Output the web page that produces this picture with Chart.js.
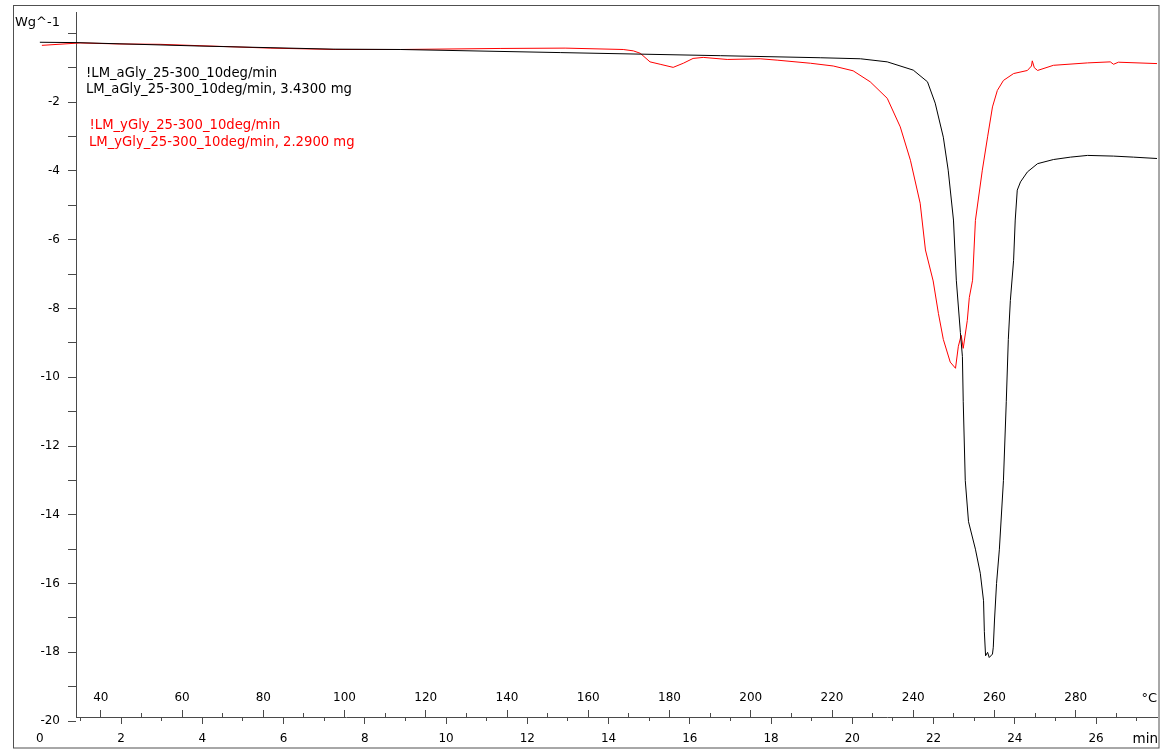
<!DOCTYPE html>
<html>
<head>
<meta charset="utf-8">
<script src="https://cdn.jsdelivr.net/npm/chart.js@4/dist/chart.umd.min.js"></script>
<style>
html,body{margin:0;padding:0;background:#fff;overflow:hidden}
#wrap{position:relative;width:1166px;height:751px}
</style>
</head>
<body>
<div id="wrap"><canvas id="c" width="1166" height="751"></canvas></div>
<script>
// ---- data (time in min, heat flow in W/g) ----
const timeA = [0, 0.89, 3.94, 7.22, 8.87, 12.81, 16.75, 19.21, 20.2, 20.86, 21.5, 21.85, 22.04, 22.24, 22.36, 22.49, 22.56, 22.66, 22.71, 22.73, 22.78, 22.86, 23.03, 23.15, 23.23, 23.25, 23.28, 23.33, 23.37, 23.45, 23.47, 23.5, 23.55, 23.62, 23.72, 23.79, 23.84, 23.89, 23.97, 24.01, 24.06, 24.14, 24.31, 24.56, 24.95, 25.37, 25.79, 26.43, 26.92, 27.5];
const heatFlowA = [-0.26, -0.27, -0.37, -0.46, -0.47, -0.56, -0.65, -0.71, -0.74, -0.83, -1.07, -1.41, -2.03, -3.02, -3.98, -5.43, -7.18, -8.7, -9.4, -10.7, -13.0, -14.2, -15.0, -15.7, -16.5, -17.4, -18.1, -18.0, -18.15, -18.05, -17.85, -17.06, -16.0, -15.0, -13.0, -10.7, -8.9, -7.77, -6.6, -5.43, -4.56, -4.32, -4.03, -3.79, -3.67, -3.6, -3.55, -3.57, -3.6, -3.64];

const timeY = [0.05, 0.99, 1.97, 2.96, 5.67, 7.27, 8.87, 11.33, 12.93, 14.36, 14.61, 14.78, 15.02, 15.27, 15.59, 15.84, 16.08, 16.33, 16.92, 17.73, 18.15, 18.97, 19.53, 20.02, 20.44, 20.86, 21.18, 21.43, 21.67, 21.8, 21.99, 22.12, 22.24, 22.41, 22.54, 22.61, 22.68, 22.73, 22.83, 22.88, 22.96, 23.03, 23.2, 23.33, 23.45, 23.57, 23.72, 23.97, 24.31, 24.41, 24.43, 24.48, 24.56, 24.95, 25.79, 26.35, 26.43, 26.55, 27.5];
const heatFlowY = [-0.35, -0.28, -0.31, -0.32, -0.43, -0.47, -0.47, -0.44, -0.43, -0.47, -0.51, -0.58, -0.83, -0.9, -0.99, -0.87, -0.73, -0.7, -0.76, -0.74, -0.78, -0.87, -0.95, -1.09, -1.41, -1.89, -2.72, -3.69, -4.94, -6.3, -7.2, -8.15, -8.9, -9.56, -9.74, -9.1, -8.78, -9.16, -8.35, -7.68, -7.18, -5.44, -3.98, -3.01, -2.14, -1.66, -1.37, -1.17, -1.08, -0.95, -0.8, -1.0, -1.08, -0.93, -0.86, -0.83, -0.9, -0.84, -0.88];

// ---- axes ----
const timeMin = 0.89, timeMax = 27.5;
const startTemp = 25, heatingRate = 10; // °C, °C/min
const yMin = -19.88, yMax = 0.62;

const timeTicks = [0, 2, 4, 6, 8, 10, 12, 14, 16, 18, 20, 22, 24, 26];
const timeTickLabels = ['0', '2', '4', '6', '8', '10', '12', '14', '16', '18', '20', '22', '24', '26'];
const timeMinorTicks = [1, 3, 5, 7, 9, 11, 13, 15, 17, 19, 21, 23, 25, 27];
const tempTicks = [40, 60, 80, 100, 120, 140, 160, 180, 200, 220, 240, 260, 280];
const tempTickLabels = ['40', '60', '80', '100', '120', '140', '160', '180', '200', '220', '240', '260', '280'];
const tempMinorTicks = [50, 70, 90, 110, 130, 150, 170, 190, 210, 230, 250, 270, 290];
const yTickValues = [-20, -19, -18, -17, -16, -15, -14, -13, -12, -11, -10, -9, -8, -7, -6, -5, -4, -3, -2, -1, 0];
const yTickLabels = ['-20', '', '-18', '', '-16', '', '-14', '', '-12', '', '-10', '', '-8', '', '-6', '', '-4', '', '-2', '', ''];

const seriesNames = ['LM_aGly_25-300_10deg/min', 'LM_yGly_25-300_10deg/min'];
const sampleMasses = ['3.4300 mg', '2.2900 mg'];
const seriesColors = ['#000000', '#ff0000'];
const yUnit = 'Wg^-1', tempUnit = '°C', timeUnit = 'min';

// ---- chart ----
const AX = '#4a4a4a';
const FONT = {family: 'DejaVu Sans', size: 12};
Chart.defaults.font.family = 'DejaVu Sans';
Chart.defaults.font.size = 12;
Chart.defaults.color = '#000';

function pts(xs, ys) { return xs.map((x, i) => ({x: x, y: ys[i]})); }
function setTicks(list) { return s => { s.ticks = list.map(v => ({value: v})); }; }
function labelFrom(values, labels) { return v => { const i = values.indexOf(v); return i < 0 ? '' : labels[i]; }; }
function fixFit(h, w) {
  return s => {
    if (h !== undefined) s.height = h;
    if (w !== undefined) s.width = w;
    s.paddingLeft = 0; s.paddingRight = 0; s.paddingTop = 0; s.paddingBottom = 0;
  };
}

const decor = {
  id: 'decor',
  beforeDraw(chart) {
    const ctx = chart.ctx;
    ctx.save();
    ctx.fillStyle = '#fff';
    ctx.fillRect(0, 0, chart.width, chart.height);
    ctx.strokeStyle = '#505050';
    ctx.lineWidth = 1;
    ctx.strokeRect(13.5, 5.5, 1145.5, 742.5);
    ctx.restore();
  },
  afterDraw(chart) {
    const ctx = chart.ctx;
    const ca = chart.chartArea;
    ctx.save();
    ctx.textBaseline = 'alphabetic';
    ctx.fillStyle = '#000';
    ctx.textAlign = 'left';
    ctx.font = '13px "DejaVu Sans"';
    ctx.fillText(yUnit, 15, 25.5);
    ctx.textAlign = 'right';
    ctx.font = '13px "DejaVu Sans"';
    ctx.fillText(tempUnit, ca.right, 701.5);
    ctx.font = '13.5px "DejaVu Sans"';
    ctx.fillText(timeUnit, ca.right + 1, 743);
    ctx.textAlign = 'left';
    // legend block
    ctx.font = '13.2px "DejaVu Sans"';
    ctx.fillStyle = seriesColors[0];
    ctx.fillText('!' + seriesNames[0], 86, 76.5);
    ctx.fillText(seriesNames[0] + ', ' + sampleMasses[0], 86, 93);
    ctx.fillStyle = seriesColors[1];
    ctx.fillText('!' + seriesNames[1], 89.5, 128.5);
    ctx.fillText(seriesNames[1] + ', ' + sampleMasses[1], 89, 145.5);
    ctx.restore();
  }
};

new Chart(document.getElementById('c'), {
  type: 'line',
  data: {
    datasets: [
      {label: seriesNames[0], data: pts(timeA, heatFlowA), borderColor: seriesColors[0], borderWidth: 1, pointRadius: 0, tension: 0, clip: false, xAxisID: 'xTime', yAxisID: 'y'},
      {label: seriesNames[1], data: pts(timeY, heatFlowY), borderColor: seriesColors[1], borderWidth: 1, pointRadius: 0, tension: 0, clip: false, xAxisID: 'xTime', yAxisID: 'y'}
    ]
  },
  options: {
    responsive: false,
    animation: false,
    events: [],
    layout: {padding: {left: 0, right: 9, top: 12, bottom: 0}},
    plugins: {legend: {display: false}, tooltip: {enabled: false}, title: {display: false}},
    scales: {
      y: {
        type: 'linear', position: 'left', min: yMin, max: yMax,
        afterBuildTicks: setTicks(yTickValues),
        afterFit: fixFit(undefined, 76),
        ticks: {callback: labelFrom(yTickValues, yTickLabels), padding: 8, autoSkip: false, color: '#000', font: FONT},
        grid: {drawOnChartArea: false, tickLength: 8, tickColor: AX, tickWidth: 1},
        border: {color: AX, width: 1}
      },
      tempMajor: {
        type: 'linear', position: 'bottom', weight: 0,
        min: startTemp + heatingRate * timeMin, max: startTemp + heatingRate * timeMax,
        afterBuildTicks: setTicks(tempTicks),
        afterFit: fixFit(0),
        ticks: {callback: labelFrom(tempTicks, tempTickLabels), mirror: true, padding: 12, autoSkip: false, maxRotation: 0, minRotation: 0, color: '#000', font: FONT},
        grid: {drawOnChartArea: false, tickLength: -7, tickColor: AX, tickWidth: 1},
        border: {display: false}
      },
      tempMinor: {
        type: 'linear', position: 'bottom', weight: 1,
        min: startTemp + heatingRate * timeMin, max: startTemp + heatingRate * timeMax,
        afterBuildTicks: setTicks(tempMinorTicks),
        afterFit: fixFit(0),
        ticks: {display: false},
        grid: {drawOnChartArea: false, tickLength: -4, tickColor: AX, tickWidth: 1},
        border: {display: false}
      },
      timeMinor: {
        type: 'linear', position: 'bottom', weight: 2,
        min: timeMin, max: timeMax,
        afterBuildTicks: setTicks(timeMinorTicks),
        afterFit: fixFit(0),
        ticks: {display: false},
        grid: {drawOnChartArea: false, tickLength: 4, tickColor: AX, tickWidth: 1},
        border: {display: false}
      },
      xTime: {
        type: 'linear', position: 'bottom', weight: 3,
        min: timeMin, max: timeMax,
        afterBuildTicks: setTicks(timeTicks),
        afterFit: fixFit(34),
        ticks: {callback: labelFrom(timeTicks, timeTickLabels), padding: 8, autoSkip: false, maxRotation: 0, minRotation: 0, color: '#000', font: FONT},
        grid: {drawOnChartArea: false, tickLength: 7, tickWidth: 1,
               tickColor: c => (c.tick && c.tick.value === 0) ? 'rgba(0,0,0,0)' : AX},
        border: {color: AX, width: 1}
      }
    }
  },
  plugins: [decor]
});
</script>
</body>
</html>
